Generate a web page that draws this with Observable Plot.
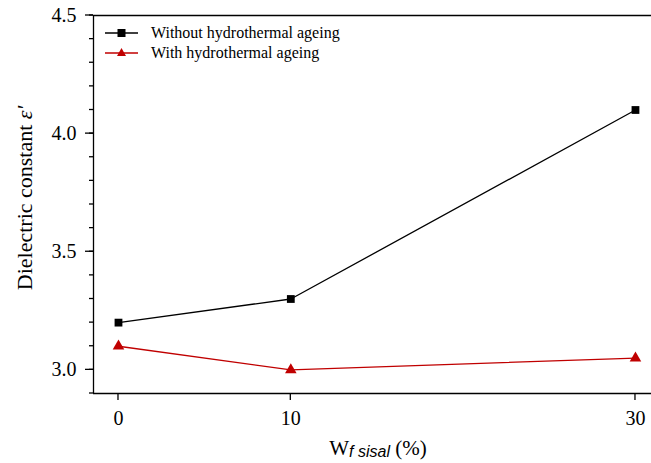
<!DOCTYPE html>
<html><head><meta charset="utf-8">
<script src="https://cdn.jsdelivr.net/npm/d3@7"></script>
<script src="https://cdn.jsdelivr.net/npm/@observablehq/plot@0.6"></script>
<style>body{margin:0;background:#fff}svg{display:block}</style>
</head><body><div id="chart"></div>
<script>
const fiberContent = [0, 10, 30];
const withoutAgeing = [3.2, 3.3, 4.1];
const withAgeing = [3.1, 3.0, 3.05];
const seriesNames = ["Without hydrothermal ageing", "With hydrothermal ageing"];
const seriesColors = ["#000000", "#c00000"];
const xTicks = [0, 10, 30];
const yMajorTicks = [3.0, 3.5, 4.0, 4.5];
const yMinorTicks = [2.9,3.0,3.1,3.2,3.3,3.4,3.5,3.6,3.7,3.8,3.9,4.0,4.1,4.2,4.3,4.4,4.5];

const data = [
  ...fiberContent.map((x, i) => ({x, y: withoutAgeing[i], s: seriesNames[0]})),
  ...fiberContent.map((x, i) => ({x, y: withAgeing[i], s: seriesNames[1]}))
];
const xDomain = [-1.45, 30.93];
const yDomain = [2.9, 4.5];
const font = "'Liberation Serif', 'Times New Roman', serif";

const plot = Plot.plot({
  width: 651, height: 463,
  marginLeft: 93, marginRight: 0, marginTop: 15, marginBottom: 70,
  style: {fontFamily: font, fontSize: "20px", color: "#000", background: "#fff"},
  x: {domain: xDomain, axis: null},
  y: {domain: yDomain, axis: null},
  marks: [
    Plot.ruleY([yDomain[1]], {stroke: "#000", strokeWidth: 1.3}),
    Plot.ruleY([yDomain[0]], {stroke: "#000", strokeWidth: 1.3}),
    Plot.ruleX([xDomain[0]], {stroke: "#000", strokeWidth: 1.3}),
    Plot.axisY({ticks: yMajorTicks, tickSize: 0, tickPadding: 17, tickFormat: d => d.toFixed(1), anchor: "left", fontSize: 20, label: null}),
    Plot.axisX({ticks: xTicks, tickSize: 0, tickPadding: 17, tickFormat: d => String(d), anchor: "bottom", fontSize: 20, label: null}),
    Plot.line(data, {x: "x", y: "y", z: "s", stroke: d => seriesColors[seriesNames.indexOf(d.s)], strokeWidth: 1.3}),
    Plot.dot(data.filter(d => d.s === seriesNames[0]), {x: "x", y: "y", symbol: "square", r: 4.4, fill: seriesColors[0], stroke: "none"}),
    Plot.dot(data.filter(d => d.s === seriesNames[1]), {x: "x", y: "y", symbol: "triangle", r: 4.3, fill: seriesColors[1], stroke: "none"})
  ]
});

const svg = d3.select(plot);
const sx = plot.scale("x"), sy = plot.scale("y");
const x0 = sx.apply(xDomain[0]), yb = sy.apply(yDomain[0]);
const tg = svg.append("g").attr("stroke", "#000").attr("stroke-width", 1.3);
yMinorTicks.forEach(v => {
  const y = sy.apply(v);
  tg.append("line").attr("x1", x0 - 4).attr("x2", x0).attr("y1", y).attr("y2", y);
});
yMajorTicks.forEach(v => {
  const y = sy.apply(v);
  tg.append("line").attr("x1", x0 - 8).attr("x2", x0).attr("y1", y).attr("y2", y);
});
xTicks.forEach(v => {
  const x = sx.apply(v);
  tg.append("line").attr("x1", x).attr("x2", x).attr("y1", yb).attr("y2", yb + 7);
});
// Legend
const leg = svg.append("g").attr("font-family", font).attr("font-size", 16).attr("text-anchor", "start");
seriesNames.forEach((name, i) => {
  const y = 33 + i * 20;
  leg.append("line").attr("x1", 105).attr("x2", 138).attr("y1", y).attr("y2", y)
    .attr("stroke", seriesColors[i]).attr("stroke-width", 1.3);
  if (i === 0) {
    leg.append("rect").attr("x", 117.5).attr("y", y - 4).attr("width", 8).attr("height", 8).attr("fill", seriesColors[i]);
  } else {
    leg.append("path").attr("d", `M121.5,${y-5} L126,${y+3} L117,${y+3} Z`).attr("fill", seriesColors[i]);
  }
  leg.append("text").attr("x", 151).attr("y", y + 5).attr("fill", "#000").text(name);
});
// Y label
const yl = svg.append("text").attr("transform", "translate(32,198) rotate(-90)")
  .attr("text-anchor", "middle").attr("font-family", font).attr("font-size", 22).attr("fill", "#000");
yl.append("tspan").text("Dielectric constant ");
yl.append("tspan").attr("font-style", "italic").text("ε'");
// X label
const xl = svg.append("text").attr("x", 378).attr("y", 455)
  .attr("text-anchor", "middle").attr("font-family", font).attr("font-size", 21).attr("fill", "#000");
xl.append("tspan").text("W");
xl.append("tspan").attr("font-family", "'Liberation Sans', Arial, sans-serif").attr("font-style", "italic").attr("font-size", 16).attr("dy", 2).text("f sisal");
xl.append("tspan").attr("dy", -2).text(" (%)");

document.getElementById("chart").appendChild(plot);
</script></body></html>
